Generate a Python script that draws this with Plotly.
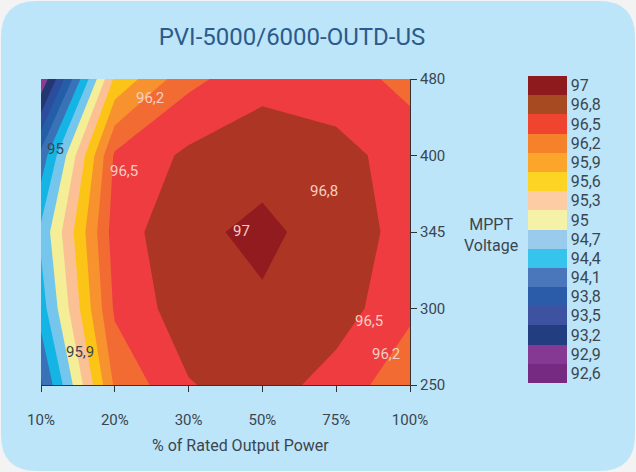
import numpy as np
import plotly.graph_objects as go

# ---------------- data ----------------
power = ['10%', '20%', '30%', '50%', '75%', '100%']
voltage = ['250', '300', '345', '400', '480']

# efficiency (%) per MPPT voltage row, columns follow `power`
eff_250 = [94.05, 96.25, 96.78, 96.90, 96.67, 96.30]
eff_300 = [94.55, 96.55, 96.92, 96.97, 96.90, 96.56]
eff_345 = [94.77, 96.65, 96.95, 97.05, 96.90, 96.70]
eff_400 = [94.20, 96.55, 96.84, 96.92, 96.86, 96.68]
eff_480 = [92.95, 95.66, 96.42, 96.70, 96.65, 96.40]

levels = [92.6, 92.9, 93.2, 93.5, 93.8, 94.1, 94.4, 94.7,
          95.0, 95.3, 95.6, 95.9, 96.2, 96.5, 96.8, 97.0]
level_labels = ['92,6', '92,9', '93,2', '93,5', '93,8', '94,1', '94,4', '94,7',
                '95', '95,3', '95,6', '95,9', '96,2', '96,5', '96,8', '97']

plot_colors = ['#7b2a80', '#8b3b92', '#233670', '#2c4c9c', '#245ea9', '#3a72b8',
               '#14b5e4', '#74c6ec', '#f4ee96', '#fbc195', '#fdc418', '#f7922e',
               '#f26b32', '#ee3c41', '#ad3524', '#921b20']
legend_colors = ['#772a82', '#853993', '#233e80', '#3e52a2', '#2a5ca9', '#4a76bc',
                 '#36c3ec', '#99cbed', '#f5f2a8', '#fdcca4', '#fed424', '#fba62b',
                 '#f5822a', '#ef4530', '#a74a22', '#8e1a1e']

# contour labels: (text, power position, voltage position, dark?)
contour_labels = [('96,2', 1.48, 3.75, False), ('95', 0.19, 3.085, True),
                  ('96,5', 1.13, 2.80, False), ('95,9', 0.53, 0.43, True),
                  ('96,8', 3.83, 2.54, False), ('97', 2.72, 2.01, False),
                  ('96,5', 4.44, 0.84, False), ('96,2', 4.67, 0.405, False)]

# ---------------- figure ----------------
FONT = "Roboto, Liberation Sans, sans-serif"
TXT = '#3b4650'

z = np.array([eff_250, eff_300, eff_345, eff_400, eff_480])
lev_ext = [levels[0] - 0.3] + levels + [levels[-1] + 0.2]
idx = np.interp(z, lev_ext, np.arange(-1, len(levels) + 1))
n = len(levels)

fig = go.Figure()
fig.add_trace(go.Contour(
    x=power, y=voltage, z=idx,
    contours=dict(start=1, end=n - 1, size=1, coloring='fill', showlines=False),
    line=dict(width=0, smoothing=0),
    colorscale=[[k / (n - 1), c] for k, c in enumerate(plot_colors)],
    showscale=False, hoverinfo='skip'))

cs = []
for k, c in enumerate(legend_colors):
    cs.append([k / n, c])
    cs.append([(k + 1) / n, c])

L, R, T, B = 41, 410, 79, 385
W, H = 636, 472
pw, ph = R - L, B - T

fig.add_trace(go.Scatter(
    x=[power[0]], y=[voltage[0]], mode='markers', hoverinfo='skip', showlegend=False,
    marker=dict(size=0.1, opacity=0, color=[0], colorscale=cs, cmin=-0.5, cmax=n - 0.5,
                showscale=True,
                colorbar=dict(x=(528 - L) / pw, xanchor='left', xpad=0,
                              y=(B - 229.5) / ph, yanchor='middle', ypad=0,
                              thickness=39, lenmode='pixels', len=307,
                              outlinewidth=0, ticks='', tickvals=list(range(n)),
                              ticktext=level_labels,
                              tickfont=dict(family=FONT, size=16, color=TXT)))))


def P(px, py):
    return (px - L) / pw, (B - py) / ph


r = 36
x0, y0, x1, y1 = 1, 1, 635, 471
pts = [('M', [(x0 + r, y0)]), ('L', [(x1 - r, y0)]), ('Q', [(x1, y0), (x1, y0 + r)]),
       ('L', [(x1, y1 - r)]), ('Q', [(x1, y1), (x1 - r, y1)]), ('L', [(x0 + r, y1)]),
       ('Q', [(x0, y1), (x0, y1 - r)]), ('L', [(x0, y0 + r)]), ('Q', [(x0, y0), (x0 + r, y0)])]
path = ''
for cmd, ps in pts:
    path += cmd + ' '.join('%.5f,%.5f' % P(*p) for p in ps) + ' '
path += 'Z'

fig.add_shape(type='path', path=path, xref='paper', yref='paper',
              fillcolor='#bce5f9', line=dict(width=0), layer='below')

ann = []
for text, xv, yv, dark in contour_labels:
    ann.append(dict(x=xv, y=yv, xref='x', yref='y', text=text, showarrow=False,
                    xanchor='center', yanchor='middle',
                    font=dict(family=FONT, size=15, color=TXT if dark else '#f6cfc2')))
ann.append(dict(x=(491 - L) / pw, y=(B - 235) / ph, xref='paper', yref='paper',
                xanchor='center', yanchor='middle',
                text='MPPT<br>Voltage', showarrow=False, align='center',
                font=dict(family=FONT, size=16, color=TXT)))
ann.append(dict(x=(241 - L) / pw, y=(B - 445) / ph, xref='paper', yref='paper',
                xanchor='center', yanchor='middle',
                text='% of Rated Output Power', showarrow=False,
                font=dict(family=FONT, size=16, color=TXT)))

fig.update_layout(
    width=W, height=H,
    margin=dict(l=L, r=W - R, t=T, b=H - B, pad=0),
    paper_bgcolor='#f3f3f3', plot_bgcolor='#bce5f9',
    showlegend=False,
    title=dict(text='PVI-5000/6000-OUTD-US', x=292 / W, xanchor='center',
               y=1 - 37 / H, yanchor='middle',
               font=dict(family=FONT, size=24, color='#2c5a8c')),
    xaxis=dict(type='category', range=[0, len(power) - 1], showgrid=False, zeroline=False,
               showline=True, linecolor='#333', linewidth=1, ticks='outside', ticklen=6,
               tickcolor='#333', ticklabelstandoff=15,
               tickfont=dict(family=FONT, size=15, color=TXT)),
    yaxis=dict(type='category', range=[0, len(voltage) - 1], side='right', showgrid=False,
               zeroline=False, showline=True, linecolor='#333', linewidth=1,
               ticks='outside', ticklen=6, tickcolor='#333',
               tickfont=dict(family=FONT, size=15, color=TXT)),
    annotations=ann,
)

fig.write_html('out.html', config={'displayModeBar': False},
               post_script="document.body.style.margin='0';document.body.style.overflow='hidden';")
